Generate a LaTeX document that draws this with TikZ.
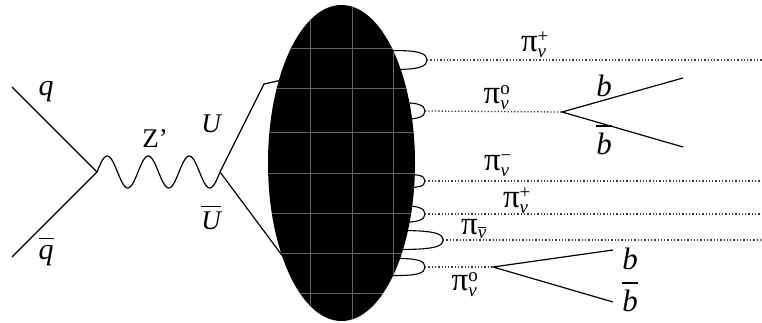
\documentclass[tikz,border=0pt]{standalone}
\usepackage{fontspec}
\setmainfont{Liberation Serif}
\usetikzlibrary{shapes.geometric}
\newcommand\lsz[1]{\fontsize{#1}{#1}\selectfont}
\newcommand\pion[2]{π$_{\mbox{\lsz{19}\itshape #1}}^{\mbox{\lsz{19}#2}}$}
\newcommand\ovl[2][5pt]{\leavevmode\vbox{\hrule height 1.4pt\kern#1\hbox{#2}}}
\begin{document}
\begin{tikzpicture}[x=1pt,y=-1pt,
  fline/.style={line width=1.2pt,black},
  pline/.style={line width=1.3pt,dotted,black!75},
  lp/.style={line width=1.1pt,black},
  lab/.style={inner sep=0pt,font=\lsz{30}\itshape},
  plab/.style={inner sep=0pt,font=\lsz{33}}]
\useasboundingbox (0,0) rectangle (762,323);
% left vertex
\coordinate (qa) at (12,87);
\coordinate (qb) at (12,257);
\coordinate (v1) at (97,172);
\coordinate (v2) at (220,172);
\draw[fline] (qa) -- (v1) -- (qb);
\draw[fline] plot[domain=0:3,samples=150,smooth] ({97+41*\x},{172-16*sin(360*\x)});
\coordinate (uk) at (264,84);
\coordinate (ue) at (282,80);
\coordinate (le) at (284,258);
\draw[fline] (v2) -- (uk) -- (ue);
\draw[fline] (v2) -- (le);
% loops (drawn first, ellipse on top)
\foreach \n/\tx/\ty/\h in {1/427/60/9, 2/425/111/8, 3/425/181/6, 4/425/214/8, 5/443/240/9, 6/425/267/8}{
  \coordinate (t\n) at (\tx,\ty);
  \draw[lp] (380,\ty-\h) .. controls (\tx-6,\ty-\h-2) and (\tx,\ty-6) .. (t\n)
     .. controls (\tx,\ty+6) and (\tx-6,\ty+\h+2) .. (380,\ty+\h);
}
% blob
\node[draw=none,fill=black,ellipse,minimum width=147pt,minimum height=316pt,inner sep=0pt] (blob) at (341.5,163) {};
\begin{scope}
\clip (341.5,163) ellipse [x radius=73.5,y radius=158];
\foreach \gx in {310,352,393}{\draw[black!62,line width=0.9pt] (\gx,0) -- (\gx,323);}
\foreach \gy in {48,88,132,173,213,253,293}{\draw[black!62,line width=0.9pt] (260,\gy) -- (420,\gy);}
\end{scope}
% dotted lines
\coordinate (e1) at (762,60);
\coordinate (w1) at (562,112);
\coordinate (e3) at (762,181);
\coordinate (e4) at (762,214);
\coordinate (e5) at (762,240);
\coordinate (w2) at (493,267);
\draw[pline] (t1) -- (e1);
\draw[pline] (t2) -- (w1);
\draw[pline] (t3) -- (e3);
\draw[pline] (t4) -- (e4);
\draw[pline] (t5) -- (e5);
\draw[pline] (t6) -- (w2);
% b bbar
\coordinate (b1) at (683,78);
\coordinate (b2) at (683,147);
\coordinate (b3) at (613,250);
\coordinate (b4) at (613,302);
\draw[fline] (b1) -- (w1) -- (b2);
\draw[fline] (b3) -- (w2) -- (b4);
% labels
\node[lab] (lq) at (46,92) {q};
\node[lab] (lqb) at (46,252) {\ovl[6pt]{q}};
\node[lab,font=\lsz{27}] (lz) at (155,139) {Z’};
\node[lab,font=\lsz{27}\itshape] (lu) at (211,124) {U};
\node[lab,font=\lsz{27}\itshape] (lub) at (211,218) {\ovl[5pt]{U}};
\node[lab,font=\lsz{31}\itshape] (lb1) at (604,86) {b};
\node[lab,font=\lsz{31}\itshape] (lb2) at (604,140) {\ovl[6pt]{b}};
\node[lab,font=\lsz{31}\itshape] (lb3) at (630,259) {b};
\node[lab,font=\lsz{31}\itshape] (lb4) at (630,297) {\ovl[6pt]{b}};
\node[plab] (p1) at (535,45) {\pion{ν}{+}};
\node[plab] (p2) at (497,98) {\pion{ν}{o}};
\node[plab] (p3) at (498,166) {\pion{ν}{−}};
\node[plab] (p4) at (517,201) {\pion{ν}{+}};
\node[plab] (p5) at (474,229) {π$_{\mbox{\lsz{19}\ovl[1.5pt]{\itshape ν}}}$};
\node[plab] (p6) at (465,285) {\pion{ν}{o}};
\end{tikzpicture}
\end{document}
